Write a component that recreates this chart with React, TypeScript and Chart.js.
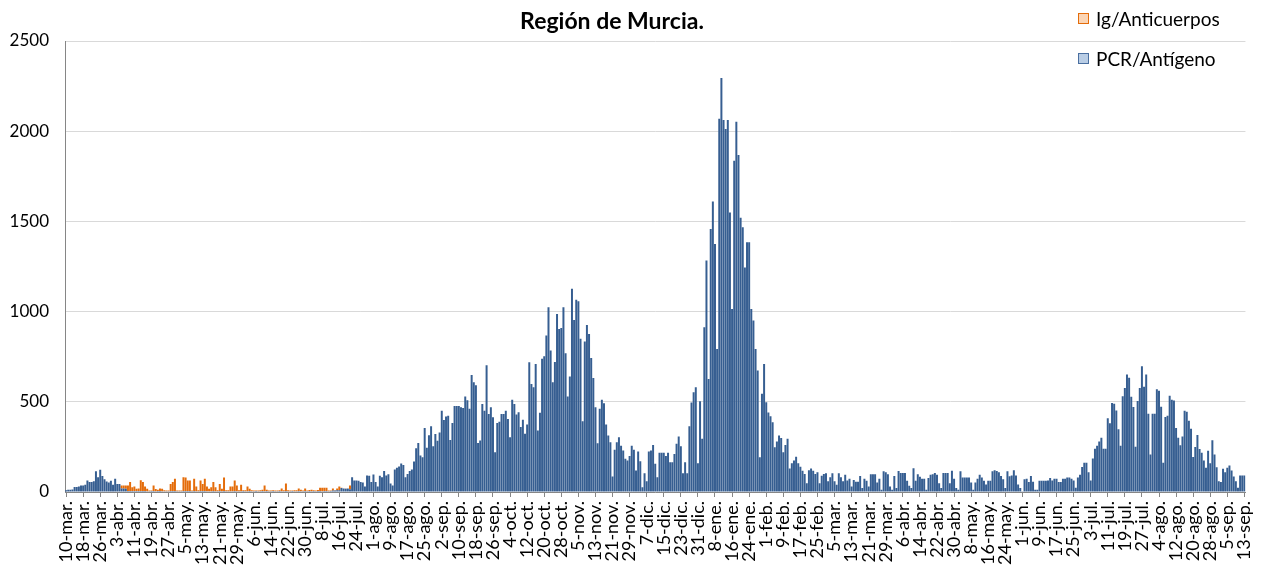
import React, { useEffect, useRef } from "react";
import { Chart, registerables } from "chart.js";

Chart.register(...registerables);

// ---- categories: daily dates from 10-mar-2020 to 13-sep-2021 ----
const START_YEAR = 2020;
const START_MONTH = 2; // March (0-based)
const START_DAY = 10;
const MONTHS = ["ene", "feb", "mar", "abr", "may", "jun", "jul", "ago", "sep", "oct", "nov", "dic"];
const LABEL_STEP = 8;

const TITLE = "Región de Murcia.";
const SERIES_PCR = "PCR/Antígeno";
const SERIES_IG = "Ig/Anticuerpos";

// ---- PCR/Antígeno, daily values per month ----
const pcrMar20 = [10, 12, 12, 14, 28, 28, 30, 36, 36, 40, 64, 56, 56, 60, 115, 82, 123, 88, 70, 58, 53, 62];
const pcrApr20 = [40, 73, 45, 45, 20, 20, 18, 6, 6, 5, 5, 5, 5, 6, 5, 5, 4, 4, 5, 5, 4, 5, 5, 4, 4, 4, 4, 5, 5, 5];
const pcrMay20 = [4, 4, 4, 5, 5, 5, 5, 4, 5, 4, 4, 5, 5, 5, 4, 4, 4, 5, 4, 4, 5, 4, 5, 4, 4, 4, 4, 5, 4, 4, 4];
const pcrJun20 = [5, 4, 4, 5, 4, 4, 5, 4, 4, 5, 4, 5, 4, 4, 5, 4, 4, 5, 4, 4, 5, 4, 4, 5, 4, 4, 5, 4, 4, 5];
const pcrJul20 = [4, 5, 4, 5, 4, 5, 5, 4, 5, 5, 4, 5, 8, 8, 10, 10, 22, 20, 18, 20, 15, 82, 64, 64, 62, 55, 52, 30, 91, 90, 55];
const pcrAug20 = [97, 55, 30, 90, 82, 116, 91, 98, 47, 36, 125, 134, 141, 158, 150, 82, 100, 116, 125, 169, 243, 271, 202, 193, 355, 245, 314, 364, 253, 321, 284];
const pcrSep20 = [330, 450, 399, 418, 423, 288, 383, 477, 477, 477, 470, 466, 529, 508, 462, 649, 609, 592, 271, 285, 488, 451, 703, 433, 470, 414, 221, 383, 390, 433];
const pcrOct20 = [433, 451, 405, 304, 512, 488, 429, 442, 360, 400, 323, 374, 719, 599, 581, 710, 341, 439, 738, 752, 867, 1024, 784, 608, 720, 987, 904, 909, 1024, 769, 529];
const pcrNov20 = [640, 1126, 954, 1065, 1057, 849, 392, 834, 926, 876, 743, 632, 470, 270, 461, 511, 492, 374, 313, 276, 86, 234, 276, 304, 256, 230, 184, 175, 200, 256];
const pcrDec20 = [234, 119, 225, 171, 27, 104, 60, 225, 230, 261, 156, 82, 217, 217, 217, 199, 217, 165, 165, 211, 267, 307, 254, 104, 165, 104, 365, 496, 553, 581, 160];
const pcrJan21 = [503, 295, 913, 1283, 627, 1458, 1611, 1375, 793, 2069, 2295, 2062, 2012, 2062, 1550, 1015, 1836, 2053, 1868, 1520, 1467, 1245, 1384, 1384, 1015, 950, 793, 673, 193, 544, 710];
const pcrFeb21 = [497, 441, 420, 387, 248, 280, 313, 300, 220, 260, 295, 130, 160, 175, 195, 160, 140, 118, 100, 48, 120, 130, 118, 100, 110, 48, 90, 100];
const pcrMar21 = [104, 60, 82, 104, 60, 40, 104, 82, 60, 96, 64, 73, 30, 67, 57, 57, 89, 22, 73, 63, 30, 98, 98, 98, 52, 73, 13, 115, 110, 98, 30];
const pcrApr21 = [13, 89, 22, 117, 106, 106, 106, 63, 35, 22, 131, 63, 98, 85, 73, 73, 13, 78, 96, 98, 106, 96, 48, 22, 106, 106, 106, 48, 118, 73];
const pcrMay21 = [22, 13, 115, 80, 80, 80, 80, 52, 13, 52, 73, 96, 80, 63, 41, 63, 63, 115, 121, 117, 110, 89, 70, 22, 115, 87, 91, 121, 91, 41, 22];
const pcrJun21 = [4, 70, 73, 56, 89, 57, 13, 13, 63, 63, 63, 63, 64, 78, 64, 73, 73, 55, 55, 73, 73, 81, 81, 73, 64, 24, 81, 96, 138, 162];
const pcrJul21 = [162, 109, 64, 186, 240, 257, 280, 301, 240, 240, 409, 381, 494, 489, 452, 348, 257, 531, 577, 651, 633, 528, 471, 251, 505, 577, 697, 583, 651, 434, 208];
const pcrAug21 = [434, 434, 570, 561, 472, 162, 416, 422, 533, 511, 507, 355, 301, 259, 307, 450, 445, 395, 350, 194, 250, 316, 238, 218, 175, 135, 229, 160, 287, 208, 137];
const pcrSep21 = [60, 55, 129, 110, 134, 147, 119, 86, 60, 24, 91, 91, 91];

// ---- Ig/Anticuerpos, daily values (only spring/summer 2020) ----
const igApr20 = [0, 0, 0, 0, 16, 16, 18, 30, 50, 21, 25, 13, 14, 59, 51, 26, 14, 4, 3, 31, 13, 8, 14, 14, 6, 4, 5, 40, 51, 68];
const igMay20 = [4, 4, 4, 77, 75, 59, 59, 4, 68, 26, 6, 59, 40, 68, 26, 14, 22, 51, 22, 6, 40, 14, 75, 6, 6, 26, 26, 59, 32, 6, 36];
const igJun20 = [5, 6, 26, 13, 6, 4, 3, 4, 6, 7, 32, 7, 4, 4, 5, 4, 4, 5, 16, 6, 42, 6, 4, 3, 6, 6, 15, 8, 4, 15];
const igJul20 = [4, 6, 8, 5, 4, 6, 19, 20, 19, 19, 4, 4, 12, 2, 10, 20, 2, 0, 2, 0, 21, 0, 0, 0, 0, 0, 0, 0, 0, 0, 0];

const Y_TICKS = [0, 500, 1000, 1500, 2000, 2500];

const pcrBefore = [pcrMar20];
const pcrIgMonths = [pcrApr20, pcrMay20, pcrJun20, pcrJul20];
const pcrAfter = [pcrAug20, pcrSep20, pcrOct20, pcrNov20, pcrDec20, pcrJan21, pcrFeb21, pcrMar21, pcrApr21, pcrMay21, pcrJun21, pcrJul21, pcrAug21, pcrSep21];

const pcrSeries: number[] = [...pcrBefore, ...pcrIgMonths, ...pcrAfter].flat();
const igSeries: (number | null)[] = [
  ...pcrBefore.flat().map(() => null),
  ...igApr20,
  ...igMay20,
  ...igJun20,
  ...igJul20,
  ...pcrAfter.flat().map(() => null),
];

const categories: string[] = pcrSeries.map((_, i) => {
  const d = new Date(Date.UTC(START_YEAR, START_MONTH, START_DAY + i));
  return `${d.getUTCDate()}-${MONTHS[d.getUTCMonth()]}.`;
});

const FONT = "Lato, 'Open Sans', sans-serif";

const overlayPlugin = {
  id: "overlay",
  afterDraw(chart: any) {
    const ctx = chart.ctx as CanvasRenderingContext2D;
    ctx.save();
    // title
    ctx.fillStyle = "#000";
    ctx.font = `bold 23px ${FONT}`;
    ctx.textAlign = "center";
    ctx.textBaseline = "alphabetic";
    ctx.fillText(TITLE, 612, 29);

    // legend
    const items = [
      { text: SERIES_IG, fill: "#FBD5B5", stroke: "#E46C0A", y: 19 },
      { text: SERIES_PCR, fill: "#B9CDE5", stroke: "#4A6FA0", y: 59 },
    ];
    ctx.font = `19px ${FONT}`;
    ctx.textAlign = "left";
    ctx.textBaseline = "middle";
    for (const it of items) {
      ctx.fillStyle = it.fill;
      ctx.fillRect(1078.5, it.y - 5.5, 10, 10);
      ctx.strokeStyle = it.stroke;
      ctx.lineWidth = 1;
      ctx.strokeRect(1078.5, it.y - 5.5, 10, 10);
      ctx.fillStyle = "#000";
      ctx.fillText(it.text, 1096, it.y + 1);
    }
    ctx.restore();
  },
};

export default function App() {
  const canvasRef = useRef<HTMLCanvasElement | null>(null);

  useEffect(() => {
    const canvas = canvasRef.current;
    if (!canvas) return;
    const chart = new Chart(canvas, {
      type: "bar",
      data: {
        labels: categories,
        datasets: [
          {
            label: SERIES_PCR,
            data: pcrSeries,
            backgroundColor: "#365E91",
            borderWidth: 0,
            barPercentage: 0.93,
            categoryPercentage: 1,
            stack: "s",
          },
          {
            label: SERIES_IG,
            data: igSeries as any,
            backgroundColor: "#E46C0A",
            borderWidth: 0,
            barPercentage: 0.93,
            categoryPercentage: 1,
            stack: "s",
          },
        ],
      },
      options: {
        responsive: false,
        animation: false,
        devicePixelRatio: 1,
        layout: { padding: { left: 0, right: 15, top: 41, bottom: 0 } },
        plugins: {
          legend: { display: false },
          title: { display: false },
          tooltip: { enabled: false },
        },
        scales: {
          x: {
            stacked: true,
            grid: {
              offset: false,
              drawOnChartArea: false,
              drawTicks: true,
              tickLength: 5,
              color: (c: any) => (c.index % LABEL_STEP === 0 ? "#868686" : "rgba(0,0,0,0)"),
            },
            border: { display: true, color: "#868686", width: 1 },
            ticks: {
              autoSkip: false,
              maxRotation: 90,
              minRotation: 90,
              padding: 4,
              color: "#000",
              font: { family: FONT, size: 18 },
              callback: (_v: any, i: number) => (i % LABEL_STEP === 0 ? categories[i] : ""),
            },
            afterFit: (s: any) => {
              s.height = 83;
            },
          },
          y: {
            stacked: true,
            min: Y_TICKS[0],
            max: Y_TICKS[Y_TICKS.length - 1],
            ticks: {
              stepSize: Y_TICKS[1] - Y_TICKS[0],
              padding: 16,
              color: "#000",
              font: { family: FONT, size: 17 },
              callback: (v: any) => String(v),
            },
            grid: { color: "#D9D9D9", drawTicks: false, lineWidth: 1 },
            border: { display: true, color: "#868686", width: 1 },
            afterFit: (s: any) => {
              s.width = 65;
            },
          },
        },
      },
      plugins: [overlayPlugin],
    });
    return () => chart.destroy();
  }, []);

  return (
    <div style={{ position: "absolute", left: 0, top: 0, width: 1270, height: 575, background: "#fff" }}>
      <canvas ref={canvasRef} width={1270} height={575} style={{ display: "block", width: 1270, height: 575 }} />
    </div>
  );
}
